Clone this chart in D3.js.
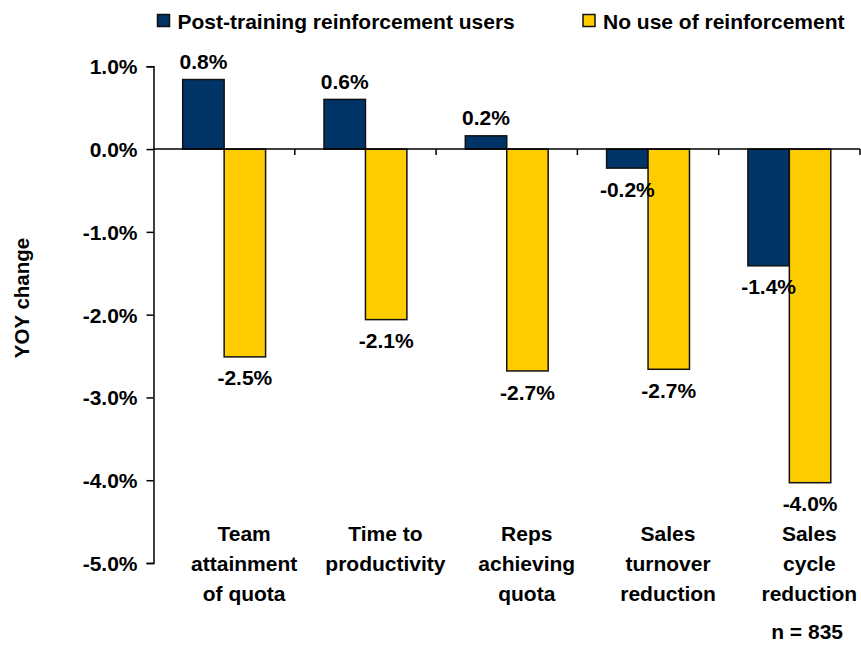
<!DOCTYPE html>
<html><head><meta charset="utf-8">
<script src="https://cdn.jsdelivr.net/npm/d3@7"></script>
<style>body{margin:0;background:#fff}svg{display:block}text{font-family:"Liberation Sans",Arial,sans-serif;font-weight:bold;fill:#000}</style>
</head><body><svg id="c" width="861" height="645"></svg>
<script>
const categories = [["Team","attainment","of quota"],["Time to","productivity"],["Reps","achieving","quota"],["Sales","turnover","reduction"],["Sales","cycle","reduction"]];
const seriesNames = ["Post-training reinforcement users","No use of reinforcement"];
const usersValues = [0.84, 0.60, 0.16, -0.23, -1.41];
const noUseValues = [-2.51, -2.06, -2.68, -2.66, -4.03];
const yTicks = [1, 0, -1, -2, -3, -4, -5];
const colors = ["#003366", "#FFCC00"];

(function(){
const svg = d3.select("#c");
const FS = 21;
const mLeft = 153.5, mRight = 860, mTop = 66.3, mBottom = 563;
const y = d3.scaleLinear().domain([1, -5]).range([mTop, mBottom]);
const x = d3.scaleBand().domain(d3.range(categories.length)).range([mLeft, mRight]).padding(0);
const xs = d3.scaleBand().domain([0, 1]).range([0, x.bandwidth()]).paddingInner(0).paddingOuter(0.705);

// y axis
const yAxis = d3.axisLeft(y).tickValues(yTicks).tickSize(7).tickFormat(d => d.toFixed(1) + "%");
const gy = svg.append("g").attr("transform", `translate(${mLeft},0)`).call(yAxis);
gy.select(".domain").attr("stroke", "#000").attr("stroke-width", 1.5);
gy.selectAll(".tick line").attr("stroke", "#000").attr("stroke-width", 1.5);
gy.selectAll(".tick text").attr("font-size", FS).attr("x", -16).attr("dy", "0.36em").style("font-family", '"Liberation Sans",Arial,sans-serif').style("font-weight", "bold");

// bars
const data = [usersValues, noUseValues];
data.forEach((vals, s) => {
  svg.append("g").selectAll("rect").data(vals).join("rect")
    .attr("x", (d, i) => x(i) + xs(s))
    .attr("width", xs.bandwidth())
    .attr("y", d => y(Math.max(0, d)))
    .attr("height", d => Math.abs(y(d) - y(0)))
    .attr("fill", colors[s]).attr("stroke", "#111").attr("stroke-width", 1.5);
});

// x axis at zero
const xBounds = d3.range(categories.length + 1).map(i => mLeft + i * x.bandwidth());
svg.append("line").attr("x1", mLeft).attr("x2", mRight).attr("y1", y(0)).attr("y2", y(0)).attr("stroke", "#000").attr("stroke-width", 1.5);
svg.append("g").selectAll("line").data(xBounds.slice(1)).join("line")
  .attr("x1", d => d).attr("x2", d => d).attr("y1", y(0)).attr("y2", y(0) + 6).attr("stroke", "#000").attr("stroke-width", 1.5);

// value labels
data.forEach((vals, s) => {
  svg.append("g").selectAll("text").data(vals).join("text")
    .attr("x", (d, i) => x(i) + xs(s) + xs.bandwidth() / 2)
    .attr("y", d => d >= 0 ? y(d) - 18 : y(d) + 21)
    .attr("dy", "0.36em").attr("text-anchor", "middle").attr("font-size", FS)
    .text(d => (Math.round(d * 10) / 10).toFixed(1) + "%");
});

// category labels
const cg = svg.append("g").selectAll("text").data(categories).join("text")
  .attr("text-anchor", "middle").attr("font-size", FS);
cg.each(function(lines, i) {
  d3.select(this).selectAll("tspan").data(lines).join("tspan")
    .attr("x", x(i) + x.bandwidth() / 2 + 20)
    .attr("y", (l, j) => 533 + j * 30).attr("dy", "0.36em").text(l => l);
});

// y title
svg.append("text").attr("transform", "translate(22,298) rotate(-90)").attr("text-anchor", "middle").attr("dy", "0.36em").attr("font-size", 20.5).text("YOY change");

// legend
const legX = [157.5, 583];
seriesNames.forEach((n, i) => {
  svg.append("rect").attr("x", legX[i]).attr("y", 14.5).attr("width", 12).attr("height", 12).attr("fill", colors[i]).attr("stroke", "#111").attr("stroke-width", 1.5);
  svg.append("text").attr("x", legX[i] + 20).attr("y", 21).attr("dy", "0.36em").attr("font-size", FS).text(n);
});

svg.append("text").attr("x", 843).attr("y", 639).attr("text-anchor", "end").attr("font-size", FS).text("n = 835");
})();
</script></body></html>
